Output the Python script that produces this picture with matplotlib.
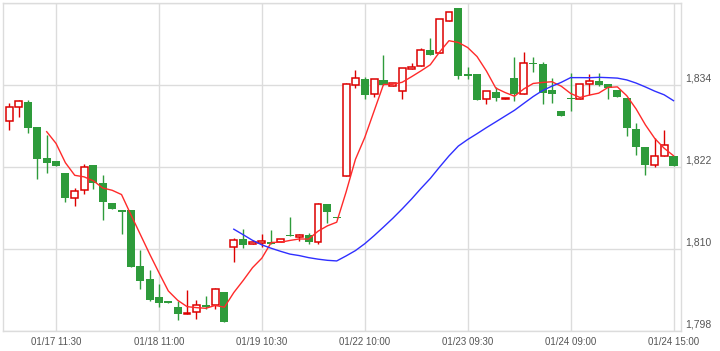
import matplotlib
matplotlib.use("Agg")
import matplotlib.pyplot as plt
import matplotlib.transforms as mtransforms
import pandas as pd

# OHLC (30 minute candles)
opens = [1828.71, 1830.76, 1831.55, 1827.88, 1823.32, 1822.88, 1821.12, 1817.55, 1818.72, 1822.30,
         1819.65, 1816.72, 1815.69, 1815.69, 1807.47, 1805.56, 1802.91, 1802.47, 1801.59, 1800.42,
         1800.81, 1801.84, 1801.74, 1803.65, 1810.35, 1811.53, 1810.74, 1810.89, 1811.04, 1810.99,
         1812.07, 1811.77, 1812.02, 1811.04, 1816.67, 1814.71, 1820.78, 1834.00, 1834.93, 1832.67,
         1834.78, 1833.85, 1833.12, 1836.44, 1836.79, 1839.18, 1838.69, 1843.39, 1845.35, 1835.66,
         1835.66, 1831.94, 1833.02, 1832.04, 1835.07, 1832.77, 1837.33, 1837.13, 1833.31, 1830.23,
         1832.14, 1831.94, 1834.14, 1834.63, 1834.19, 1833.31, 1832.09, 1827.58, 1824.99, 1822.30,
         1823.72, 1823.67]
highs = [1831.35, 1831.84, 1831.84, 1827.88, 1826.70, 1822.88, 1821.12, 1818.97, 1822.54, 1822.39,
         1820.93, 1816.72, 1815.69, 1815.69, 1809.91, 1806.98, 1804.82, 1802.47, 1802.40, 1803.94,
         1802.57, 1803.06, 1804.33, 1803.65, 1811.67, 1813.00, 1811.38, 1812.26, 1812.75, 1811.53,
         1814.71, 1812.17, 1812.36, 1816.77, 1816.67, 1814.71, 1834.29, 1836.25, 1835.17, 1834.88,
         1838.45, 1834.29, 1836.49, 1837.23, 1839.43, 1840.90, 1843.69, 1844.72, 1845.35, 1836.64,
         1835.66, 1833.12, 1833.70, 1832.14, 1838.11, 1838.94, 1838.20, 1837.47, 1835.02, 1830.23,
         1835.76, 1834.14, 1835.66, 1835.76, 1834.19, 1833.31, 1832.09, 1828.42, 1824.99, 1826.36,
         1827.53, 1823.67]
lows = [1827.39, 1829.30, 1826.95, 1820.34, 1821.17, 1822.15, 1816.91, 1816.37, 1818.14, 1818.87,
        1814.32, 1815.84, 1812.26, 1807.37, 1804.18, 1802.40, 1801.49, 1802.08, 1799.63, 1800.42,
        1799.78, 1801.25, 1801.25, 1799.29, 1808.10, 1810.16, 1810.69, 1810.30, 1810.69, 1810.99,
        1811.92, 1811.19, 1810.79, 1810.79, 1813.88, 1814.61, 1820.68, 1833.56, 1831.94, 1832.23,
        1834.00, 1833.85, 1832.04, 1836.44, 1836.79, 1838.50, 1838.69, 1843.39, 1834.97, 1834.97,
        1831.89, 1831.21, 1831.74, 1832.04, 1831.65, 1832.77, 1835.90, 1831.21, 1831.45, 1829.44,
        1830.28, 1831.94, 1832.58, 1833.90, 1831.94, 1832.33, 1826.60, 1823.86, 1820.82, 1822.05,
        1823.72, 1822.20]
closes = [1830.76, 1831.65, 1827.78, 1823.23, 1822.64, 1822.15, 1817.50, 1818.57, 1822.10, 1819.70,
          1816.91, 1815.84, 1815.44, 1807.37, 1805.31, 1802.52, 1802.08, 1802.08, 1800.52, 1800.66,
          1801.79, 1801.59, 1804.14, 1799.29, 1811.38, 1810.60, 1810.99, 1811.14, 1810.79, 1811.53,
          1811.92, 1812.07, 1811.04, 1816.57, 1815.44, 1814.61, 1834.14, 1835.02, 1832.63, 1834.88,
          1834.00, 1834.29, 1836.49, 1836.69, 1839.13, 1838.50, 1843.69, 1844.72, 1835.41, 1835.41,
          1831.89, 1833.12, 1832.19, 1832.14, 1832.72, 1837.23, 1837.13, 1832.92, 1832.67, 1829.44,
          1831.94, 1834.14, 1834.68, 1834.09, 1833.65, 1832.33, 1827.68, 1824.99, 1822.35, 1823.72,
          1825.19, 1822.20]

tick_idx = [5, 16, 27, 38, 49, 60, 71]
tick_labels = ["01/17 11:30", "01/18 11:00", "01/19 10:30", "01/22 10:00",
               "01/23 09:30", "01/24 09:00", "01/24 15:00"]
y_ticks = [1798, 1810, 1822, 1834, 1846]
y_labels = ["1,798", "1,810", "1,822", "1,834"]

df = pd.DataFrame({"open": opens, "high": highs, "low": lows, "close": closes})
df["ma5"] = df["close"].rolling(5).mean()
df["ma25"] = df["close"].rolling(25).mean()

up_col = "#dd0000"
down_col = "#2e9b3b"
grid_col = "#dcdcdc"

plt.rcParams["font.family"] = ["Liberation Sans", "DejaVu Sans"]

fig = plt.figure(figsize=(7.2, 3.51), dpi=100)
ax = fig.add_axes([3 / 720, 20 / 351, 678 / 720, 327.5 / 351])

x = df.index.values
up = df["close"] >= df["open"]
width = 0.86

for i, row in df.iterrows():
    col = up_col if up[i] else down_col
    ax.vlines(i, row["low"], row["high"], color=col, lw=1, zorder=2)
    bottom = min(row["open"], row["close"])
    height = max(abs(row["close"] - row["open"]), 0.15)
    if up[i]:
        ax.bar(i, height, width=width - 0.12, bottom=bottom, facecolor="white",
               edgecolor=up_col, linewidth=1.1, zorder=3)
    else:
        ax.bar(i, height, width=width, bottom=bottom, facecolor=down_col,
               edgecolor="none", zorder=3)

ax.plot(x, df["ma5"], color="#ff2a2a", lw=1, zorder=4)
ax.plot(x, df["ma25"], color="#2f2fff", lw=1, zorder=4)

ax.set_xlim(-0.67, 71.8)
ax.set_ylim(1798, 1846)
ax.set_xticks(tick_idx)
ax.set_xticklabels(tick_labels)
ax.set_yticks(y_ticks)
ax.set_yticklabels([])
ax.tick_params(axis="both", length=0)
ax.tick_params(axis="x", pad=4, labelsize=7, labelcolor="#555555")
ax.grid(True, color=grid_col, lw=1)
ax.set_axisbelow(True)
for s in ax.spines.values():
    s.set_color(grid_col)
    s.set_linewidth(1)

trans = mtransforms.blended_transform_factory(ax.transAxes, ax.transData)
trans = trans + mtransforms.ScaledTranslation(3 / 72, 2.5 / 72, fig.dpi_scale_trans)
for v, lab in zip(y_ticks, y_labels):
    ax.text(1.0, v, lab, transform=trans, ha="left", va="baseline",
            fontsize=7.5, color="#555555")

fig.savefig("out.png", dpi=100)
